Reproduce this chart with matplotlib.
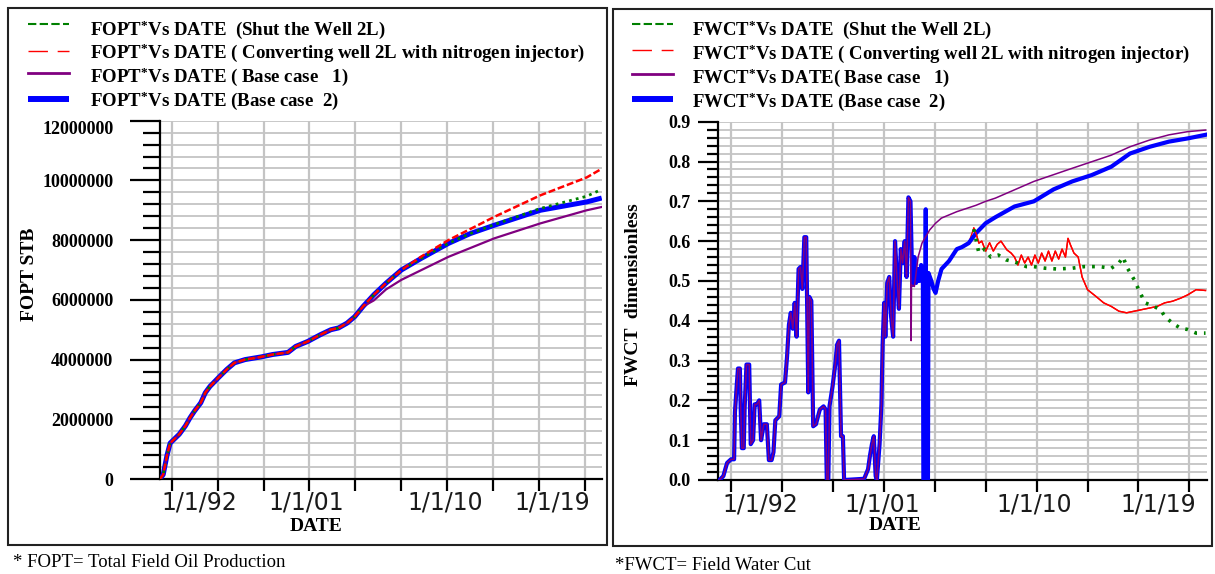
import matplotlib
matplotlib.use("Agg")
import matplotlib.pyplot as plt
import matplotlib.transforms as mtransforms
from matplotlib.lines import Line2D
from matplotlib.patches import Rectangle
from matplotlib.ticker import MultipleLocator, FixedLocator, FixedFormatter

# ---------------- data ----------------
tick_years = [1992, 1995, 1998, 2001, 2004, 2007, 2010, 2013, 2016, 2019]
label_years = [1992, 2001, 2010, 2019]
label_texts = ["1/1/92", "1/1/01", "1/1/10", "1/1/19"]

fopt_yticks = [0, 2000000, 4000000, 6000000, 8000000, 10000000, 12000000]
fopt_ytick_labels = ["0", "2000000", "4000000", "6000000", "8000000", "10000000", "12000000"]
fwct_yticks = [0.0, 0.1, 0.2, 0.3, 0.4, 0.5, 0.6, 0.7, 0.8, 0.9]
fwct_ytick_labels = ["0.0", "0.1", "0.2", "0.3", "0.4", "0.5", "0.6", "0.7", "0.8", "0.9"]

# FOPT (million STB) - shared history
fopt_hist_year = [1991.24, 1991.45, 1991.7, 1991.9, 1992.2, 1992.5, 1992.9, 1993.2, 1993.5,
                  1993.9, 1994.2, 1994.5, 1995.05, 1995.6, 1996.1, 1996.8, 1997.85, 1998.6,
                  1999.6, 2000.1, 2000.9, 2001.7, 2002.4, 2002.9, 2003.45, 2003.96, 2004.5]
fopt_hist_val = [0.0, 0.15, 0.8, 1.2, 1.35, 1.5, 1.78, 2.05, 2.28,
                 2.55, 2.89, 3.1, 3.39, 3.67, 3.89, 4.0, 4.09, 4.17,
                 4.24, 4.44, 4.61, 4.83, 5.0, 5.06, 5.22, 5.44, 5.78]
# forecasts
fopt_base2_year = [2005.2, 2006.0, 2007.0, 2008.3, 2010.07, 2011.5, 2013.07, 2016.07, 2019.1, 2020.08]
fopt_base2_val = [6.17, 6.56, 7.0, 7.39, 7.89, 8.22, 8.5, 9.0, 9.28, 9.41]
fopt_conv_year = [2005.2, 2006.0, 2007.0, 2008.3, 2010.07, 2013.07, 2016.07, 2019.1, 2020.08]
fopt_conv_val = [6.17, 6.56, 7.0, 7.45, 8.0, 8.78, 9.5, 10.1, 10.39]
fopt_shut_year = [2005.2, 2006.0, 2007.0, 2008.3, 2010.07, 2011.5, 2013.07, 2016.07, 2019.1, 2020.08]
fopt_shut_val = [6.17, 6.56, 7.0, 7.39, 7.89, 8.22, 8.52, 9.06, 9.47, 9.7]
fopt_base1_year = [2005.2, 2006.0, 2007.0, 2010.07, 2013.07, 2016.07, 2019.1, 2020.08]
fopt_base1_val = [5.98, 6.35, 6.67, 7.44, 8.06, 8.56, 9.0, 9.11]

# FWCT - shared history
fwct_hist_year = [1991.32, 1991.55, 1991.66, 1991.77, 1992.0, 1992.18, 1992.23, 1992.34, 1992.41,
                  1992.52, 1992.57, 1992.64, 1992.75, 1992.8, 1992.91, 1993.07, 1993.16, 1993.3,
                  1993.39, 1993.52, 1993.66, 1993.77, 1993.93, 1994.11, 1994.23, 1994.39, 1994.5,
                  1994.61, 1994.84, 1994.95, 1995.18, 1995.3, 1995.41, 1995.52, 1995.64, 1995.75,
                  1995.86, 1995.98, 1996.09, 1996.2, 1996.32, 1996.43, 1996.55, 1996.61, 1996.73,
                  1996.84, 1997.0, 1997.23, 1997.45, 1997.57, 1997.64, 1997.73, 1997.8, 1997.98,
                  1998.14, 1998.25, 1998.36, 1998.48, 1998.59, 1998.66, 1999.84, 2000.07, 2000.18,
                  2000.3, 2000.41, 2000.52, 2000.59, 2000.75, 2000.86, 2000.93, 2001.02, 2001.09,
                  2001.2, 2001.32, 2001.43, 2001.55, 2001.66, 2001.77, 2001.89, 2002.0, 2002.11,
                  2002.23, 2002.34, 2002.45, 2002.57]
fwct_hist_val = [0.0, 0.01, 0.027, 0.043, 0.052, 0.052, 0.17, 0.24, 0.28,
                 0.28, 0.18, 0.08, 0.08, 0.18, 0.29, 0.29, 0.09, 0.10,
                 0.19, 0.19, 0.20, 0.10, 0.14, 0.14, 0.05, 0.05, 0.07,
                 0.15, 0.16, 0.24, 0.245, 0.31, 0.39, 0.42, 0.38, 0.445,
                 0.36, 0.53, 0.535, 0.48, 0.61, 0.61, 0.22, 0.46, 0.45,
                 0.135, 0.14, 0.177, 0.185, 0.177, 0.0, 0.0, 0.185, 0.235,
                 0.29, 0.34, 0.35, 0.11, 0.11, 0.0, 0.003, 0.027, 0.06,
                 0.09, 0.11, 0.01, 0.0, 0.09, 0.19, 0.34, 0.445, 0.36,
                 0.495, 0.51, 0.41, 0.36, 0.60, 0.51, 0.43, 0.58, 0.545,
                 0.60, 0.51, 0.71, 0.70]
# Base case 2 continuation
fwct_base2_year = [2002.68, 2002.8, 2002.9, 2003.0, 2003.1, 2003.2, 2003.3, 2003.33, 2003.42,
                   2003.47, 2003.5, 2003.6, 2003.63, 2003.8, 2003.93, 2004.05, 2004.2, 2004.4,
                   2004.84, 2005.3, 2005.6, 2006.0]
fwct_base2_val = [0.49, 0.56, 0.495, 0.53, 0.50, 0.54, 0.52, 0.0, 0.0,
                  0.68, 0.0, 0.0, 0.52, 0.50, 0.48, 0.47, 0.50, 0.53,
                  0.55, 0.58, 0.585, 0.595]
fwct_base2_late_year = [2006.43, 2007.0, 2007.57, 2008.7, 2009.84, 2011.0, 2012.1, 2013.25,
                        2014.4, 2015.5, 2016.66, 2017.8, 2018.9, 2019.95]
fwct_base2_late_val = [0.62, 0.645, 0.66, 0.687, 0.70, 0.73, 0.75, 0.766,
                       0.787, 0.82, 0.837, 0.85, 0.858, 0.867]
# Base case 1 continuation
fwct_base1_year = [2002.61, 2002.63, 2002.8, 2003.02, 2003.25, 2003.7, 2004.05, 2004.4, 2005.3,
                   2006.43, 2007.0, 2007.57, 2009.84, 2012.1, 2014.4, 2015.5, 2016.66, 2017.8,
                   2018.9, 2019.95]
fwct_base1_val = [0.35, 0.49, 0.486, 0.56, 0.595, 0.628, 0.645, 0.658, 0.674,
                  0.69, 0.70, 0.708, 0.75, 0.783, 0.816, 0.837, 0.854, 0.867,
                  0.875, 0.879]
# Converting well 2L with nitrogen injector (after branching)
fwct_conv_year = [2006.3, 2006.43, 2006.6, 2006.77, 2007.0, 2007.23, 2007.45, 2007.68, 2007.9,
                  2008.25, 2008.5, 2008.7, 2008.9, 2009.1, 2009.3, 2009.5, 2009.7, 2009.9,
                  2010.1, 2010.3, 2010.5, 2010.7, 2010.9, 2011.1, 2011.3, 2011.5, 2011.7,
                  2011.85, 2012.0, 2012.2, 2012.45, 2012.68, 2013.0, 2013.5, 2013.95, 2014.4,
                  2014.85, 2015.3, 2015.75, 2016.2, 2016.66, 2017.1, 2017.55, 2018.0, 2018.5,
                  2018.9, 2019.4, 2019.95]
fwct_conv_val = [0.633, 0.62, 0.595, 0.60, 0.575, 0.596, 0.575, 0.592, 0.60,
                 0.578, 0.57, 0.56, 0.54, 0.565, 0.545, 0.56, 0.54, 0.565,
                 0.545, 0.57, 0.55, 0.575, 0.55, 0.575, 0.555, 0.58, 0.56,
                 0.607, 0.59, 0.57, 0.56, 0.51, 0.478, 0.461, 0.445, 0.436,
                 0.424, 0.42, 0.424, 0.428, 0.432, 0.436, 0.445, 0.449, 0.457,
                 0.465, 0.478, 0.476]
# Shut the well 2L (after branching)
fwct_shut_year = [2006.3, 2006.6, 2006.95, 2007.3, 2007.75, 2008.2, 2008.7, 2009.4, 2009.84,
                  2010.5, 2011.2, 2012.1, 2012.8, 2013.7, 2014.4, 2014.85, 2015.1, 2015.3,
                  2015.75, 2016.1, 2016.4, 2016.9, 2017.3, 2017.55, 2018.0, 2018.45, 2018.9,
                  2019.4, 2019.95]
fwct_shut_val = [0.63, 0.57, 0.58, 0.56, 0.565, 0.553, 0.548, 0.536, 0.536,
                 0.532, 0.53, 0.532, 0.536, 0.536, 0.532, 0.545, 0.56, 0.536,
                 0.503, 0.47, 0.445, 0.436, 0.428, 0.411, 0.394, 0.382, 0.378,
                 0.369, 0.369]

legend_left = ["FOPT$^{*}$Vs DATE  (Shut the Well 2L)",
               "FOPT$^{*}$Vs DATE ( Converting well 2L with nitrogen injector)",
               "FOPT$^{*}$Vs DATE ( Base case   1)",
               "FOPT$^{*}$Vs DATE (Base case  2)"]
legend_right = ["FWCT$^{*}$Vs DATE  (Shut the Well 2L)",
                "FWCT$^{*}$Vs DATE ( Converting well 2L with nitrogen injector)",
                "FWCT$^{*}$Vs DATE( Base case   1)",
                "FWCT$^{*}$Vs DATE (Base case  2)"]

# ---------------- figure ----------------
W, H, DPI = 1215, 574, 100
plt.rcParams["mathtext.fontset"] = "custom"
plt.rcParams["mathtext.rm"] = "Liberation Serif:bold"
plt.rcParams["mathtext.default"] = "rm"
plt.rcParams["lines.scale_dashes"] = False

GREEN, RED, PURPLE, BLUE = "#008000", "#ff0000", "#800080", "#0000ff"
SERIF = "Liberation Serif"

fig = plt.figure(figsize=(W / DPI, H / DPI), dpi=DPI)
fig.patch.set_facecolor("white")


def fx(x):
    return x / W


def fy(y):
    return 1 - y / H


for (x0, y0, x1, y1) in [(8, 8, 607, 545), (613, 9, 1212, 546)]:
    fig.add_artist(Rectangle((fx(x0), fy(y1)), fx(x1) - fx(x0), fy(y0) - fy(y1),
                             transform=fig.transFigure, fill=False,
                             edgecolor="#222222", linewidth=1.5))

axL = fig.add_axes([fx(160), fy(479), fx(601.7) - fx(160), fy(120.7) - fy(479)])
axR = fig.add_axes([fx(718.3), fy(480), fx(1206.7) - fx(718.3), fy(121.7) - fy(480)])


def style(ax, xlim, yticks, ylabels, minor_step, maj_len, min_len, pad, label_dx):
    ax.set_xlim(*xlim)
    ax.set_ylim(yticks[0], yticks[-1])
    for s in ("top", "right"):
        ax.spines[s].set_visible(False)
    for s in ("left", "bottom"):
        ax.spines[s].set_linewidth(1.6)
        ax.spines[s].set_color("black")
    ax.xaxis.set_major_locator(FixedLocator(tick_years))
    ax.yaxis.set_major_locator(FixedLocator(yticks))
    ax.yaxis.set_major_formatter(FixedFormatter(ylabels))
    ax.yaxis.set_minor_locator(MultipleLocator(minor_step))
    ax.set_axisbelow(True)
    ax.grid(True, which="major", axis="x", color="#c4c4c4", linewidth=1.6)
    ax.grid(True, which="both", axis="y", color="#c4c4c4", linewidth=1.3)
    ax.tick_params(axis="x", which="major", direction="out", length=8.5, width=1.6,
                   labelbottom=False)
    ax.tick_params(axis="y", which="major", direction="out", length=maj_len, width=1.6,
                   pad=pad, labelsize=13)
    ax.tick_params(axis="y", which="minor", direction="out", length=min_len, width=1.6)
    for lab in ax.get_yticklabels():
        lab.set_fontfamily(SERIF)
        lab.set_fontweight("bold")
    base = mtransforms.blended_transform_factory(ax.transData, ax.transAxes)
    for yr, txt, dx in zip(label_years, label_texts, label_dx):
        off = mtransforms.ScaledTranslation(dx / DPI, -24 / DPI, fig.dpi_scale_trans)
        ax.text(yr, 0, txt, transform=base + off, ha="center", va="center",
                fontsize=17, family="DejaVu Sans", color="#1a1a1a")


style(axL, (1991.24, 2020.08), fopt_yticks, fopt_ytick_labels, 400000, 21.5, 12.2, 12, [28, -3, -2, -33])
style(axR, (1991.25, 2020.02), fwct_yticks, fwct_ytick_labels, 0.02, 14.4, 8.0, 5.8, [29, -2, -2, -31])
axL.get_yticklabels()[-1].set_verticalalignment("top")

# ----- left panel: FOPT -----
M = 1e6
blue_x = fopt_hist_year + fopt_base2_year
blue_y = [v * M for v in fopt_hist_val + fopt_base2_val]
axL.plot(blue_x, blue_y, color=BLUE, lw=3.6, solid_capstyle="butt", zorder=3)
axL.plot(fopt_hist_year + fopt_base1_year, [v * M for v in fopt_hist_val + fopt_base1_val],
         color=PURPLE, lw=1.6, zorder=4)
axL.plot(fopt_hist_year + fopt_shut_year, [v * M for v in fopt_hist_val + fopt_shut_val],
         color=GREEN, lw=2.0, linestyle=(0, (2, 3)), zorder=5)
axL.plot(fopt_hist_year + fopt_conv_year, [v * M for v in fopt_hist_val + fopt_conv_val],
         color=RED, lw=1.8, linestyle=(0, (5, 2)), zorder=6)
axL.set_xlabel("DATE", family=SERIF, weight="bold", fontsize=14, va="center")
axL.xaxis.set_label_coords((316 - 160) / 441.7, (479 - 526.5) / 358.3)
axL.set_ylabel("FOPT STB", family=SERIF, weight="bold", fontsize=14, va="center", ha="center")
axL.yaxis.set_label_coords((30 - 160) / 441.7, (479 - 274) / 358.3)

# ----- right panel: FWCT -----
b2x = fwct_hist_year + fwct_base2_year + fwct_base2_late_year
b2y = fwct_hist_val + fwct_base2_val + fwct_base2_late_val
axR.plot(b2x, b2y, color=BLUE, lw=3.0, zorder=3)
axR.plot(fwct_hist_year + fwct_base1_year, fwct_hist_val + fwct_base1_val,
         color=PURPLE, lw=1.1, zorder=4)
shared_x = fwct_hist_year + fwct_base2_year
shared_y = fwct_hist_val + fwct_base2_val
axR.plot(shared_x + fwct_conv_year, shared_y + fwct_conv_val, color=RED, lw=1.0, zorder=2)
axR.plot(fwct_conv_year, fwct_conv_val, color=RED, lw=1.0, zorder=5)
axR.plot(fwct_shut_year, fwct_shut_val, color=GREEN, lw=2.6, linestyle=(0, (2, 5)), zorder=6)
axR.set_xlabel("DATE", family=SERIF, weight="bold", fontsize=14, va="center")
axR.xaxis.set_label_coords((895 - 718.3) / 488.4, (480 - 525) / 358.3)
axR.set_ylabel("FWCT  dimensionless", family=SERIF, weight="bold", fontsize=14,
               va="center", ha="center")
axR.yaxis.set_label_coords((633 - 718.3) / 488.4, (480 - 295) / 358.3)

# ----- legends (drawn as style samples + text) -----
leg_styles = [dict(color=GREEN, lw=1.5, linestyle=(0, (6, 2.4))),
              dict(color=RED, lw=1.0, linestyle=(0, (14, 7))),
              dict(color=PURPLE, lw=2.0, linestyle="-"),
              dict(color=BLUE, lw=4.3, linestyle="-", solid_capstyle="butt")]


def legend(texts, x0, x1, xt, line_ys, base_ys, size):
    for txt, st, ly, by in zip(texts, leg_styles, line_ys, base_ys):
        fig.add_artist(Line2D([fx(x0), fx(x1)], [fy(ly), fy(ly)], transform=fig.transFigure, **st))
        fig.text(fx(xt), fy(by), txt, family=SERIF, weight="bold", fontsize=size,
                 va="baseline", ha="left")


legend(legend_left, 28, 69, 90, [24, 50.5, 73, 99], [34.5, 58, 82, 106], 13.6)
legend(legend_right, 632, 673, 692, [24, 50, 74, 99], [34.5, 59, 83, 107], 13.5)

# footnotes
fig.text(fx(13), fy(567), "* FOPT= Total Field Oil Production", family=SERIF, fontsize=13.5,
         va="baseline")
fig.text(fx(615), fy(570), "*FWCT= Field Water Cut", family=SERIF, fontsize=13.5,
         va="baseline")

fig.savefig("out.png", dpi=DPI, facecolor="white")
